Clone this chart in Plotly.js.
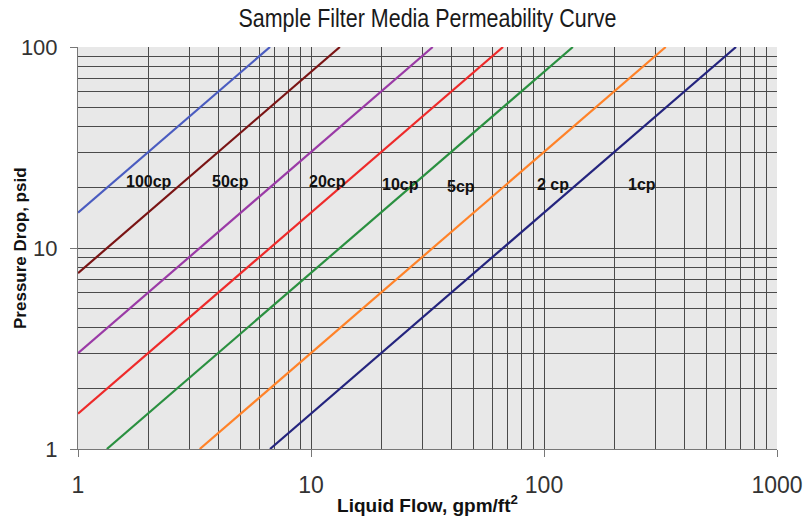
<!DOCTYPE html>
<html>
<head>
<meta charset="utf-8">
<script src="https://cdn.plot.ly/plotly-3.0.1.min.js"></script>
<style>html,body{margin:0;padding:0;background:#fff;}#chart{width:804px;height:522px;}</style>
</head>
<body>
<div id="chart"></div>
<script>
// Series: viscosity label, line endpoints (flow, pressure)
const seriesNames = ["100cp", "50cp", "20cp", "10cp", "5cp", "2 cp", "1cp"];
const flow100 = [1, 6.67];   const dp100 = [15, 100];
const flow50  = [1, 13.3];   const dp50  = [7.5, 100];
const flow20  = [1, 33.3];   const dp20  = [3, 100];
const flow10  = [1, 66.7];   const dp10  = [1.5, 100];
const flow5   = [1.33, 133]; const dp5   = [1, 100];
const flow2   = [3.33, 333]; const dp2   = [1, 100];
const flow1   = [6.67, 667]; const dp1   = [1, 100];
const seriesColors = ["#4a5cc0", "#7a1414", "#9a3aa6", "#ee2a2a", "#2a9040", "#ff8228", "#24247e"];
// Curve label positions (flow, pressure)
const labelFlow = [2.02, 4.53, 11.8, 24.3, 44, 109, 263];
const labelDp   = [21.5, 21.5, 21.5, 20.8, 20.3, 20.8, 20.8];
// Axis ticks
const xTickVals = [1, 10, 100, 1000];
const yTickVals = [1, 10, 100];

const flows = [flow100, flow50, flow20, flow10, flow5, flow2, flow1];
const dps = [dp100, dp50, dp20, dp10, dp5, dp2, dp1];

function minorVals(maxDecadeExp) {
  const v = [];
  for (let e = 0; e < maxDecadeExp; e++) {
    for (let m = 2; m <= 9; m++) v.push(m * Math.pow(10, e));
  }
  return v;
}

const traces = seriesNames.map((n, i) => ({
  x: flows[i], y: dps[i], type: 'scatter', mode: 'lines', name: n,
  line: {color: seriesColors[i], width: 2.2}, hoverinfo: 'skip'
}));

const annotations = seriesNames.map((n, i) => ({
  x: Math.log10(labelFlow[i]), y: Math.log10(labelDp[i]), xref: 'x', yref: 'y',
  text: n, showarrow: false,
  font: {family: 'Liberation Sans, Arial, sans-serif', size: 16, weight: 'bold', color: '#111'}
}));
// y-axis title placed as a rotated annotation
annotations.push({
  x: -0.083, y: 0.5, xref: 'paper', yref: 'paper', xanchor: 'center', yanchor: 'middle',
  text: 'Pressure Drop, psid', textangle: -90, showarrow: false,
  font: {family: 'Liberation Sans, Arial, sans-serif', size: 17, weight: 'bold', color: '#111'}
});

const gridColor = '#4a4a4a';
const layout = {
  width: 804, height: 522,
  margin: {l: 78, r: 27, t: 47, b: 73},
  paper_bgcolor: '#ffffff', plot_bgcolor: '#e8e8e8',
  showlegend: false,
  title: {text: 'Sample Filter Media Permeability Curve', x: 0.5, xref: 'paper', y: 0.966, yref: 'container', yanchor: 'middle',
          font: {family: 'Liberation Sans, Arial, sans-serif', size: 26, color: '#1a1a1a'}},
  font: {family: 'Liberation Sans, Arial, sans-serif', color: '#333'},
  xaxis: {
    type: 'log', range: [0, 3], tickmode: 'array', tickvals: xTickVals, ticktext: xTickVals.map(String),
    ticks: 'outside', ticklen: 7, tickcolor: '#777', ticklabelstandoff: 8,
    tickfont: {size: 23, color: '#333'},
    showgrid: true, gridcolor: gridColor, gridwidth: 1,
    showline: true, linecolor: '#777', linewidth: 1, zeroline: false,
    minor: {tickmode: 'array', tickvals: minorVals(3), showgrid: true, gridcolor: gridColor, gridwidth: 1, ticks: ''},
    title: {text: 'Liquid Flow, gpm/ft<sup>2</sup>', font: {size: 19, weight: 'bold', color: '#111'}, standoff: 2}
  },
  yaxis: {
    type: 'log', range: [0, 2], tickmode: 'array', tickvals: yTickVals, ticktext: yTickVals.map(String),
    ticks: 'outside', ticklen: 7, tickcolor: '#777', ticklabelstandoff: 8,
    tickfont: {size: 22, color: '#333'},
    showgrid: true, gridcolor: gridColor, gridwidth: 1,
    showline: true, linecolor: '#777', linewidth: 1, zeroline: false,
    minor: {tickmode: 'array', tickvals: minorVals(2), showgrid: true, gridcolor: gridColor, gridwidth: 1, ticks: ''}
  },
  annotations: annotations
};

Plotly.newPlot('chart', traces, layout, {displayModeBar: false, staticPlot: true}).then(function (gd) {
  // condensed look of the reference title
  const t = gd.querySelector('.gtitle');
  if (t) {
    t.setAttribute('textLength', '378');
    t.setAttribute('lengthAdjust', 'spacingAndGlyphs');
  }
});
</script>
</body>
</html>
